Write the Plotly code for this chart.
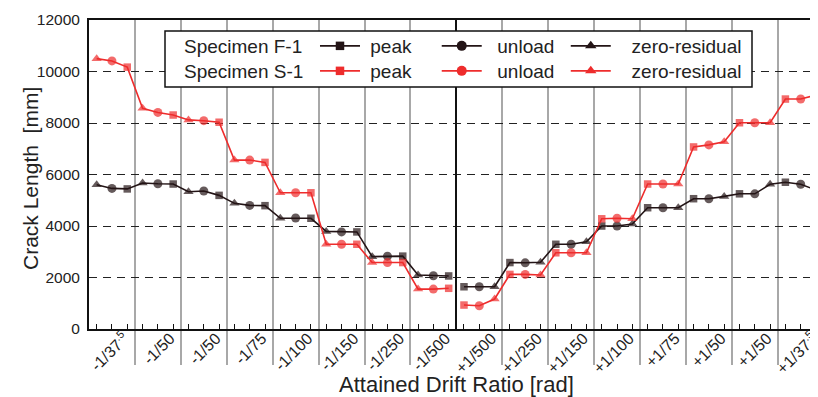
import plotly.graph_objects as go

# ---------------- data ----------------
drift_labels = ["-1/37<sup style='font-size:10px'>.5</sup>", "-1/50", "-1/50", "-1/75", "-1/100", "-1/150", "-1/250", "-1/500",
                "+1/500", "+1/250", "+1/150", "+1/100", "+1/75", "+1/50", "+1/50", "+1/37<sup style='font-size:10px'>.5</sup>"]
stage_order_neg = ["zero-residual", "unload", "peak"]
stage_order_pos = ["peak", "unload", "zero-residual"]
y_ticks = [0, 2000, 4000, 6000, 8000, 10000, 12000]

f1_crack = [5600, 5460, 5440, 5670, 5640, 5630, 5330, 5360, 5190, 4880, 4800, 4790,
            4300, 4310, 4300, 3790, 3770, 3770, 2810, 2830, 2830, 2100, 2070, 2060,
            1640, 1640, 1640, 2580, 2570, 2590, 3290, 3290, 3390, 4000, 4000, 4080,
            4710, 4710, 4710, 5060, 5060, 5150, 5250, 5250, 5620, 5700, 5620, 5400]
s1_crack = [10500, 10410, 10170, 8570, 8410, 8310, 8120, 8090, 8030, 6560, 6560, 6470,
            5290, 5290, 5290, 3290, 3290, 3290, 2580, 2580, 2580, 1550, 1550, 1580,
            930, 905, 1165, 2120, 2120, 2100, 2960, 2960, 2960, 4280, 4300, 4280,
            5630, 5630, 5630, 7070, 7150, 7270, 8010, 8010, 8010, 8930, 8930, 9090]

specimens = ["Specimen F-1", "Specimen S-1"]
colors = ["#231416", "#ee2c2c"]
symbols = {"peak": "square", "unload": "circle", "zero-residual": "triangle-up"}
sizes = {"peak": 7.5, "unload": 9, "zero-residual": 9}

FONT = "Liberation Sans, Arial, Helvetica, sans-serif"
TXT = "#222222"

# ---------------- positions (category index based) ----------------
n_groups = len(drift_labels)
half = n_groups // 2
x_pos, stages = [], []
for g in range(n_groups):
    order = stage_order_neg if g < half else stage_order_pos
    for j, s in enumerate(order):
        x_pos.append(3 * g + j - 3 * half + 0.5)
        stages.append(s)
boundaries = [3 * g - 3 * half for g in range(1, n_groups) if g != half]
label_pos = [3 * g - 3 * half + 1.5 + 0.8 for g in range(n_groups)]


def with_gap(vals, filler=None):
    return list(vals[:3 * half]) + [filler] + list(vals[3 * half:])


fig = go.Figure()
for spec, vals, col in zip(specimens, [f1_crack, s1_crack], colors):
    fig.add_trace(go.Scatter(
        x=with_gap(x_pos), y=with_gap(vals), mode="lines+markers",
        line=dict(color=col, width=1.6),
        marker=dict(symbol=with_gap([symbols[s] for s in stages], "circle"),
                    size=with_gap([sizes[s] for s in stages], 0), color=col, line=dict(width=0)),
        connectgaps=False, showlegend=False, hoverinfo="skip", cliponaxis=False))

# legend entries (one legend per entry for exact placement)
legend_x = [0.31, 0.477, 0.654]
legend_pad = [1, 2, 3]  # leading spaces between legend symbol and text
legend_y = [(329 - 46) / 309, (329 - 71) / 309]
k = 0
legend_layouts = {}
for si, (spec, col) in enumerate(zip(specimens, colors)):
    for ci, st in enumerate(stage_order_pos):
        k += 1
        lname = "legend" if k == 1 else f"legend{k}"
        fig.add_trace(go.Scatter(
            x=[None], y=[None], mode="lines+markers", name="\u00a0" * legend_pad[ci] + st,
            line=dict(color=col, width=1.6),
            marker=dict(symbol=symbols[st], size=sizes[st] + 1, color=col),
            legend=lname, showlegend=True))
        legend_layouts[lname] = dict(
            x=legend_x[ci], y=legend_y[si], xanchor="left", yanchor="middle",
            bgcolor="rgba(0,0,0,0)", borderwidth=0, itemwidth=40,
            font=dict(family=FONT, size=19, color=TXT))

# dummy trace to host label axis
fig.add_trace(go.Scatter(x=[None], y=[None], xaxis="x2", showlegend=False))

# page body has an 8px margin: figure is shifted by 8px, so size it to the visible window
fig.update_layout(
    width=810, height=389,
    margin=dict(l=81, r=0, t=12, b=68, autoexpand=False),
    paper_bgcolor="white", plot_bgcolor="white",
    font=dict(family=FONT, color=TXT),
    xaxis=dict(
        range=[-24, 23.63], showline=True, linecolor="#111", linewidth=2, mirror=True,
        tickmode="array", tickvals=boundaries, showticklabels=False, automargin=False,
        ticks="outside", ticklen=34, tickwidth=2, tickcolor="#a8a8a8",
        showgrid=True, gridcolor="#a8a8a8", gridwidth=2,
        zeroline=True, zerolinecolor="#111", zerolinewidth=1.5,
        minor=dict(tickmode="array", tickvals=x_pos, ticks="inside", ticklen=5,
                   tickwidth=1.2, tickcolor="#111", showgrid=False),
    ),
    xaxis2=dict(
        overlaying="x", anchor="y", side="bottom", matches="x", automargin=False,
        range=[-24, 23.63], showline=False, showgrid=False, zeroline=False,
        tickmode="array", tickvals=label_pos, ticktext=drift_labels, ticklabeloverflow="allow",
        ticks="", tickangle=-45, ticklabelstandoff=-4,
        tickfont=dict(family=FONT, size=16, color=TXT),
    ),
    yaxis=dict(
        range=[0, 12000], tickmode="array", tickvals=y_ticks, ticktext=[str(v) for v in y_ticks],
        showline=True, linecolor="#111", linewidth=2, ticks="", ticklabelstandoff=4,
        automargin=False,
        tickfont=dict(family=FONT, size=15.5, color=TXT),
        showgrid=True, gridcolor="#222", gridwidth=1, griddash="8px,6px", zeroline=False,
    ),
    shapes=[dict(type="rect", xref="paper", yref="paper",
                 x0=(165 - 89) / 729, x1=(752 - 89) / 729,
                 y0=(329 - 87) / 309, y1=(329 - 31) / 309,
                 line=dict(color="#111", width=1.5), fillcolor="white", layer="above")],
    annotations=[
        dict(text="Attained Drift Ratio [rad]", xref="x", yref="paper", x=0, y=(329 - 384) / 309,
             xanchor="center", yanchor="middle", showarrow=False,
             font=dict(family=FONT, size=22, color=TXT)),
        dict(text="Crack Length\u00a0 [mm]", xref="paper", yref="paper", x=(30 - 89) / 729,
             y=(329 - 179) / 309, xanchor="center", yanchor="middle", textangle=-90,
             showarrow=False, font=dict(family=FONT, size=21, color=TXT)),
    ] + [
        dict(text=spec, xref="paper", yref="paper", x=(182 - 89) / 729, y=legend_y[i],
             xanchor="left", yanchor="middle", showarrow=False,
             font=dict(family=FONT, size=19, color=TXT))
        for i, spec in enumerate(specimens)
    ],
    **legend_layouts,
)

fig.write_html("out.html")
